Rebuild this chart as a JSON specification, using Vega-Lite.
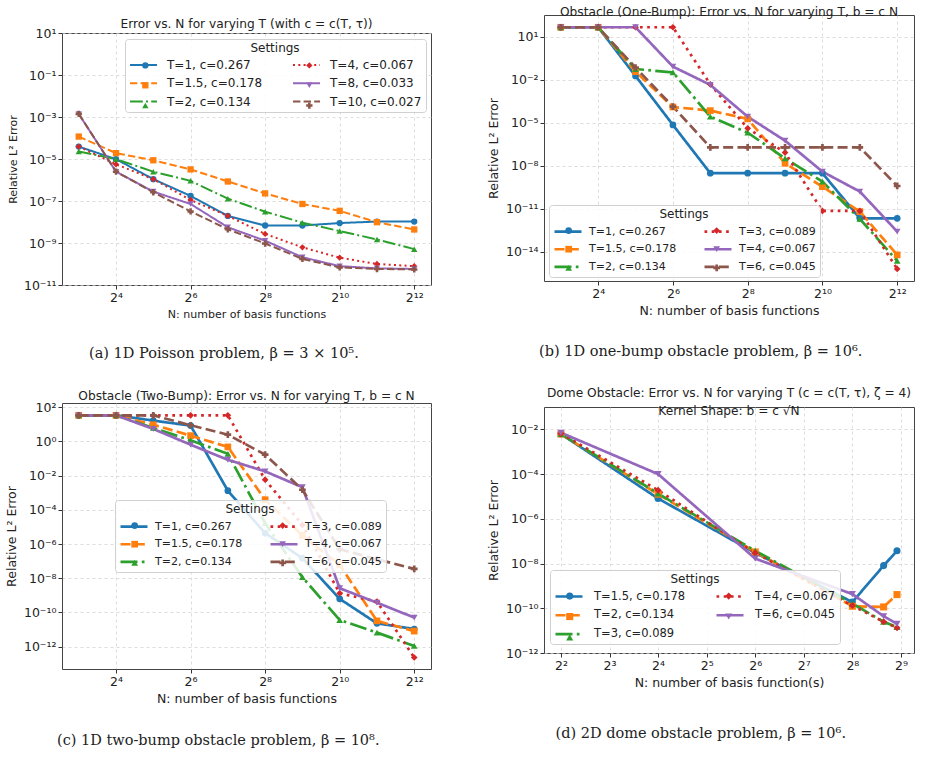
{
  "$schema": "https://vega.github.io/schema/vega-lite/v6.json",
  "background": "white",
  "padding": {"left": 4, "top": 5, "right": 3, "bottom": 5},
  "config": {
    "font": "DejaVu Sans",
    "view": {"stroke": "#444", "strokeWidth": 1},
    "axis": {"labelFont": "DejaVu Sans", "labelFontSize": 12.5, "labelColor": "#222", "titleFont": "DejaVu Sans", "titleFontWeight": "normal", "titleColor": "#222", "titleFontSize": 12.5, "domain": false, "tickColor": "#333", "tickSize": 4, "gridColor": "#cfcfcf", "gridDash": [3, 3], "gridOpacity": 0.7, "labelPadding": 2, "titlePadding": 5},
    "title": {"font": "DejaVu Sans", "fontWeight": "normal", "fontSize": 12.2, "color": "#222", "offset": 3, "subtitleFont": "DejaVu Sans", "subtitleFontSize": 12.2, "subtitleColor": "#222"},
    "legend": {"titleAnchor": "middle", "titleFontSize": 12, "titleFontWeight": "normal", "titleColor": "#222", "titleFont": "DejaVu Sans", "labelFont": "DejaVu Sans", "labelFontSize": 11.5, "labelColor": "#222", "columnPadding": 26, "padding": 4, "cornerRadius": 3, "titlePadding": 4, "labelLimit": 220, "columns": 2, "symbolOpacity": 1}
  },
  "resolve": {"scale": {"color": "independent", "fill": "independent", "shape": "independent", "strokeDash": "independent"}, "legend": {"color": "independent", "fill": "independent", "shape": "independent", "strokeDash": "independent"}},
  "datasets": {
    "a": [
      {"s": "T=1, c=0.267", "N": 8, "e": 3.9e-5}, {"s": "T=1, c=0.267", "N": 16, "e": 9.8e-6}, {"s": "T=1, c=0.267", "N": 32, "e": 1.1e-6}, {"s": "T=1, c=0.267", "N": 64, "e": 1.74e-7}, {"s": "T=1, c=0.267", "N": 128, "e": 1.95e-8}, {"s": "T=1, c=0.267", "N": 256, "e": 6.8e-9}, {"s": "T=1, c=0.267", "N": 512, "e": 6.8e-9}, {"s": "T=1, c=0.267", "N": 1024, "e": 8.9e-9}, {"s": "T=1, c=0.267", "N": 2048, "e": 1.05e-8}, {"s": "T=1, c=0.267", "N": 4096, "e": 1.05e-8},
      {"s": "T=1.5, c=0.178", "N": 8, "e": 1.17e-4}, {"s": "T=1.5, c=0.178", "N": 16, "e": 1.9e-5}, {"s": "T=1.5, c=0.178", "N": 32, "e": 8.7e-6}, {"s": "T=1.5, c=0.178", "N": 64, "e": 3.2e-6}, {"s": "T=1.5, c=0.178", "N": 128, "e": 8.5e-7}, {"s": "T=1.5, c=0.178", "N": 256, "e": 2.3e-7}, {"s": "T=1.5, c=0.178", "N": 512, "e": 7.2e-8}, {"s": "T=1.5, c=0.178", "N": 1024, "e": 3.4e-8}, {"s": "T=1.5, c=0.178", "N": 2048, "e": 9.8e-9}, {"s": "T=1.5, c=0.178", "N": 4096, "e": 4.4e-9},
      {"s": "T=2, c=0.134", "N": 8, "e": 2.3e-5}, {"s": "T=2, c=0.134", "N": 16, "e": 9.8e-6}, {"s": "T=2, c=0.134", "N": 32, "e": 2.5e-6}, {"s": "T=2, c=0.134", "N": 64, "e": 9.1e-7}, {"s": "T=2, c=0.134", "N": 128, "e": 1.29e-7}, {"s": "T=2, c=0.134", "N": 256, "e": 3.1e-8}, {"s": "T=2, c=0.134", "N": 512, "e": 9.3e-9}, {"s": "T=2, c=0.134", "N": 1024, "e": 3.7e-9}, {"s": "T=2, c=0.134", "N": 2048, "e": 1.48e-9}, {"s": "T=2, c=0.134", "N": 4096, "e": 5.1e-10},
      {"s": "T=4, c=0.067", "N": 8, "e": 3.9e-5}, {"s": "T=4, c=0.067", "N": 16, "e": 5.6e-6}, {"s": "T=4, c=0.067", "N": 32, "e": 1.1e-6}, {"s": "T=4, c=0.067", "N": 64, "e": 1.12e-7}, {"s": "T=4, c=0.067", "N": 128, "e": 1.95e-8}, {"s": "T=4, c=0.067", "N": 256, "e": 2.7e-9}, {"s": "T=4, c=0.067", "N": 512, "e": 6.2e-10}, {"s": "T=4, c=0.067", "N": 1024, "e": 2.0e-10}, {"s": "T=4, c=0.067", "N": 2048, "e": 1.0e-10}, {"s": "T=4, c=0.067", "N": 4096, "e": 7.9e-11},
      {"s": "T=8, c=0.033", "N": 8, "e": 1.41e-3}, {"s": "T=8, c=0.033", "N": 16, "e": 2.5e-6}, {"s": "T=8, c=0.033", "N": 32, "e": 2.8e-7}, {"s": "T=8, c=0.033", "N": 64, "e": 7.2e-8}, {"s": "T=8, c=0.033", "N": 128, "e": 5.6e-9}, {"s": "T=8, c=0.033", "N": 256, "e": 1.29e-9}, {"s": "T=8, c=0.033", "N": 512, "e": 2.1e-10}, {"s": "T=8, c=0.033", "N": 1024, "e": 7.9e-11}, {"s": "T=8, c=0.033", "N": 2048, "e": 6.2e-11}, {"s": "T=8, c=0.033", "N": 4096, "e": 5.8e-11},
      {"s": "T=10, c=0.027", "N": 8, "e": 1.41e-3}, {"s": "T=10, c=0.027", "N": 16, "e": 2.5e-6}, {"s": "T=10, c=0.027", "N": 32, "e": 2.6e-7}, {"s": "T=10, c=0.027", "N": 64, "e": 3.2e-8}, {"s": "T=10, c=0.027", "N": 128, "e": 4.5e-9}, {"s": "T=10, c=0.027", "N": 256, "e": 9.5e-10}, {"s": "T=10, c=0.027", "N": 512, "e": 1.74e-10}, {"s": "T=10, c=0.027", "N": 1024, "e": 6.9e-11}, {"s": "T=10, c=0.027", "N": 2048, "e": 5.8e-11}, {"s": "T=10, c=0.027", "N": 4096, "e": 5.5e-11}
    ],
    "b": [
      {"s": "T=1, c=0.267", "N": 8, "e": 45}, {"s": "T=1, c=0.267", "N": 16, "e": 45}, {"s": "T=1, c=0.267", "N": 32, "e": 0.018}, {"s": "T=1, c=0.267", "N": 64, "e": 6.9e-6}, {"s": "T=1, c=0.267", "N": 128, "e": 2.95e-9}, {"s": "T=1, c=0.267", "N": 256, "e": 2.95e-9}, {"s": "T=1, c=0.267", "N": 512, "e": 2.95e-9}, {"s": "T=1, c=0.267", "N": 1024, "e": 2.95e-9}, {"s": "T=1, c=0.267", "N": 2048, "e": 2.1e-12}, {"s": "T=1, c=0.267", "N": 4096, "e": 2.1e-12},
      {"s": "T=1.5, c=0.178", "N": 8, "e": 45}, {"s": "T=1.5, c=0.178", "N": 16, "e": 45}, {"s": "T=1.5, c=0.178", "N": 32, "e": 0.036}, {"s": "T=1.5, c=0.178", "N": 64, "e": 1.23e-4}, {"s": "T=1.5, c=0.178", "N": 128, "e": 6.9e-5}, {"s": "T=1.5, c=0.178", "N": 256, "e": 1.82e-5}, {"s": "T=1.5, c=0.178", "N": 512, "e": 1.45e-8}, {"s": "T=1.5, c=0.178", "N": 1024, "e": 3.4e-10}, {"s": "T=1.5, c=0.178", "N": 2048, "e": 6.2e-12}, {"s": "T=1.5, c=0.178", "N": 4096, "e": 5.9e-15},
      {"s": "T=2, c=0.134", "N": 8, "e": 45}, {"s": "T=2, c=0.134", "N": 16, "e": 45}, {"s": "T=2, c=0.134", "N": 32, "e": 0.055}, {"s": "T=2, c=0.134", "N": 64, "e": 0.032}, {"s": "T=2, c=0.134", "N": 128, "e": 2.6e-5}, {"s": "T=2, c=0.134", "N": 256, "e": 2.0e-6}, {"s": "T=2, c=0.134", "N": 512, "e": 3.2e-8}, {"s": "T=2, c=0.134", "N": 1024, "e": 7.6e-10}, {"s": "T=2, c=0.134", "N": 2048, "e": 1.9e-12}, {"s": "T=2, c=0.134", "N": 4096, "e": 2.3e-15},
      {"s": "T=3, c=0.089", "N": 8, "e": 45}, {"s": "T=3, c=0.089", "N": 16, "e": 45}, {"s": "T=3, c=0.089", "N": 32, "e": 45}, {"s": "T=3, c=0.089", "N": 64, "e": 45}, {"s": "T=3, c=0.089", "N": 128, "e": 4.7e-3}, {"s": "T=3, c=0.089", "N": 256, "e": 4.0e-6}, {"s": "T=3, c=0.089", "N": 512, "e": 8.1e-8}, {"s": "T=3, c=0.089", "N": 1024, "e": 6.9e-12}, {"s": "T=3, c=0.089", "N": 2048, "e": 6.9e-12}, {"s": "T=3, c=0.089", "N": 4096, "e": 6.2e-16},
      {"s": "T=4, c=0.067", "N": 8, "e": 45}, {"s": "T=4, c=0.067", "N": 16, "e": 45}, {"s": "T=4, c=0.067", "N": 32, "e": 45}, {"s": "T=4, c=0.067", "N": 64, "e": 0.081}, {"s": "T=4, c=0.067", "N": 128, "e": 4.3e-3}, {"s": "T=4, c=0.067", "N": 256, "e": 2.6e-5}, {"s": "T=4, c=0.067", "N": 512, "e": 5.5e-7}, {"s": "T=4, c=0.067", "N": 1024, "e": 3.8e-9}, {"s": "T=4, c=0.067", "N": 2048, "e": 1.55e-10}, {"s": "T=4, c=0.067", "N": 4096, "e": 2.5e-13},
      {"s": "T=6, c=0.045", "N": 8, "e": 45}, {"s": "T=6, c=0.045", "N": 16, "e": 45}, {"s": "T=6, c=0.045", "N": 32, "e": 0.069}, {"s": "T=6, c=0.045", "N": 64, "e": 1.32e-4}, {"s": "T=6, c=0.045", "N": 128, "e": 1.9e-7}, {"s": "T=6, c=0.045", "N": 256, "e": 1.9e-7}, {"s": "T=6, c=0.045", "N": 512, "e": 1.9e-7}, {"s": "T=6, c=0.045", "N": 1024, "e": 1.9e-7}, {"s": "T=6, c=0.045", "N": 2048, "e": 1.9e-7}, {"s": "T=6, c=0.045", "N": 4096, "e": 3.8e-10}
    ],
    "c": [
      {"s": "T=1, c=0.267", "N": 8, "e": 34}, {"s": "T=1, c=0.267", "N": 16, "e": 34}, {"s": "T=1, c=0.267", "N": 32, "e": 16.6}, {"s": "T=1, c=0.267", "N": 64, "e": 8.5}, {"s": "T=1, c=0.267", "N": 128, "e": 1.32e-3}, {"s": "T=1, c=0.267", "N": 256, "e": 4.4e-6}, {"s": "T=1, c=0.267", "N": 512, "e": 1.48e-7}, {"s": "T=1, c=0.267", "N": 1024, "e": 6.2e-10}, {"s": "T=1, c=0.267", "N": 2048, "e": 2.3e-11}, {"s": "T=1, c=0.267", "N": 4096, "e": 1.07e-11},
      {"s": "T=1.5, c=0.178", "N": 8, "e": 34}, {"s": "T=1.5, c=0.178", "N": 16, "e": 34}, {"s": "T=1.5, c=0.178", "N": 32, "e": 9.5}, {"s": "T=1.5, c=0.178", "N": 64, "e": 2.2}, {"s": "T=1.5, c=0.178", "N": 128, "e": 0.48}, {"s": "T=1.5, c=0.178", "N": 256, "e": 3.9e-4}, {"s": "T=1.5, c=0.178", "N": 512, "e": 3.2e-6}, {"s": "T=1.5, c=0.178", "N": 1024, "e": 6.0e-8}, {"s": "T=1.5, c=0.178", "N": 2048, "e": 3.2e-11}, {"s": "T=1.5, c=0.178", "N": 4096, "e": 8.1e-12},
      {"s": "T=2, c=0.134", "N": 8, "e": 34}, {"s": "T=2, c=0.134", "N": 16, "e": 34}, {"s": "T=2, c=0.134", "N": 32, "e": 6.2}, {"s": "T=2, c=0.134", "N": 64, "e": 1.17}, {"s": "T=2, c=0.134", "N": 128, "e": 0.19}, {"s": "T=2, c=0.134", "N": 256, "e": 1.66e-5}, {"s": "T=2, c=0.134", "N": 512, "e": 1.15e-8}, {"s": "T=2, c=0.134", "N": 1024, "e": 3.6e-11}, {"s": "T=2, c=0.134", "N": 2048, "e": 6.6e-12}, {"s": "T=2, c=0.134", "N": 4096, "e": 1.1e-12},
      {"s": "T=3, c=0.089", "N": 8, "e": 34}, {"s": "T=3, c=0.089", "N": 16, "e": 34}, {"s": "T=3, c=0.089", "N": 32, "e": 34}, {"s": "T=3, c=0.089", "N": 64, "e": 34}, {"s": "T=3, c=0.089", "N": 128, "e": 34}, {"s": "T=3, c=0.089", "N": 256, "e": 5.8e-3}, {"s": "T=3, c=0.089", "N": 512, "e": 1.32e-5}, {"s": "T=3, c=0.089", "N": 1024, "e": 1.32e-9}, {"s": "T=3, c=0.089", "N": 2048, "e": 4.3e-10}, {"s": "T=3, c=0.089", "N": 4096, "e": 2.3e-13},
      {"s": "T=4, c=0.067", "N": 8, "e": 34}, {"s": "T=4, c=0.067", "N": 16, "e": 34}, {"s": "T=4, c=0.067", "N": 32, "e": 5.4}, {"s": "T=4, c=0.067", "N": 64, "e": 0.65}, {"s": "T=4, c=0.067", "N": 128, "e": 0.085}, {"s": "T=4, c=0.067", "N": 256, "e": 0.0178}, {"s": "T=4, c=0.067", "N": 512, "e": 2.1e-3}, {"s": "T=4, c=0.067", "N": 1024, "e": 2.6e-9}, {"s": "T=4, c=0.067", "N": 2048, "e": 3.7e-10}, {"s": "T=4, c=0.067", "N": 4096, "e": 5.0e-11},
      {"s": "T=6, c=0.045", "N": 8, "e": 34}, {"s": "T=6, c=0.045", "N": 16, "e": 34}, {"s": "T=6, c=0.045", "N": 32, "e": 34}, {"s": "T=6, c=0.045", "N": 64, "e": 8.9}, {"s": "T=6, c=0.045", "N": 128, "e": 2.5}, {"s": "T=6, c=0.045", "N": 256, "e": 0.17}, {"s": "T=6, c=0.045", "N": 512, "e": 1.5e-3}, {"s": "T=6, c=0.045", "N": 1024, "e": 5.0e-7}, {"s": "T=6, c=0.045", "N": 2048, "e": 1.29e-7}, {"s": "T=6, c=0.045", "N": 4096, "e": 3.5e-8}
    ],
    "d": [
      {"s": "T=1.5, c=0.178", "N": 4, "e": 6.2e-3}, {"s": "T=1.5, c=0.178", "N": 16, "e": 8.1e-6}, {"s": "T=1.5, c=0.178", "N": 64, "e": 3.0e-8}, {"s": "T=1.5, c=0.178", "N": 256, "e": 1.9e-10}, {"s": "T=1.5, c=0.178", "N": 400, "e": 8.1e-9}, {"s": "T=1.5, c=0.178", "N": 484, "e": 3.7e-8},
      {"s": "T=2, c=0.134", "N": 4, "e": 6.2e-3}, {"s": "T=2, c=0.134", "N": 16, "e": 1.26e-5}, {"s": "T=2, c=0.134", "N": 64, "e": 3.3e-8}, {"s": "T=2, c=0.134", "N": 256, "e": 1.23e-10}, {"s": "T=2, c=0.134", "N": 400, "e": 1.15e-10}, {"s": "T=2, c=0.134", "N": 484, "e": 4.1e-10},
      {"s": "T=3, c=0.089", "N": 4, "e": 6.2e-3}, {"s": "T=3, c=0.089", "N": 16, "e": 1.35e-5}, {"s": "T=3, c=0.089", "N": 64, "e": 3.7e-8}, {"s": "T=3, c=0.089", "N": 256, "e": 1.62e-10}, {"s": "T=3, c=0.089", "N": 400, "e": 2.5e-11}, {"s": "T=3, c=0.089", "N": 484, "e": 1.45e-11},
      {"s": "T=4, c=0.067", "N": 4, "e": 6.6e-3}, {"s": "T=4, c=0.067", "N": 16, "e": 1.9e-5}, {"s": "T=4, c=0.067", "N": 64, "e": 3.0e-8}, {"s": "T=4, c=0.067", "N": 256, "e": 1.32e-10}, {"s": "T=4, c=0.067", "N": 400, "e": 2.5e-11}, {"s": "T=4, c=0.067", "N": 484, "e": 1.35e-11},
      {"s": "T=6, c=0.045", "N": 4, "e": 7.1e-3}, {"s": "T=6, c=0.045", "N": 16, "e": 1.0e-4}, {"s": "T=6, c=0.045", "N": 64, "e": 1.66e-8}, {"s": "T=6, c=0.045", "N": 256, "e": 4.3e-10}, {"s": "T=6, c=0.045", "N": 400, "e": 4.4e-11}, {"s": "T=6, c=0.045", "N": 484, "e": 2.0e-11}
    ]
  },
  "spacing": 45,
  "hconcat": [
    {
      "spacing": 28,
      "resolve": {"scale": {"color": "independent", "fill": "independent", "shape": "independent", "strokeDash": "independent"}, "legend": {"color": "independent", "fill": "independent", "shape": "independent", "strokeDash": "independent"}},
      "vconcat": [
        {
          "spacing": 0,
          "resolve": {"scale": {"color": "independent", "fill": "independent", "shape": "independent", "strokeDash": "independent"}, "legend": {"color": "independent", "fill": "independent", "shape": "independent", "strokeDash": "independent"}},
          "vconcat": [
            {"width": 10, "height": 1, "data": {"values": []}, "mark": "point", "view": {"stroke": "transparent"}},
            {
              "title": {"text": "(a) 1D Poisson problem, β = 3 × 10⁵.", "orient": "bottom", "anchor": "middle", "font": "DejaVu Serif", "fontSize": 14.5, "offset": 27},
              "vconcat": [
                {
                  "width": 369, "height": 252,
                  "title": {"text": "Error vs. N for varying T (with c = c(T, τ))", "offset": -3},
                  "data": {"name": "a"},
                  "encoding": {
                    "x": {"field": "N", "type": "quantitative", "scale": {"type": "log", "base": 2, "domain": [5.86, 5594], "nice": false}, "axis": {"values": [16, 64, 256, 1024, 4096], "labelExpr": "['2⁰','2¹','2²','2³','2⁴','2⁵','2⁶','2⁷','2⁸','2⁹','2¹⁰','2¹¹','2¹²'][round(log(datum.value)/LN2)]", "title": "N: number of basis functions", "titleFontSize": 11}},
                    "y": {"field": "e", "type": "quantitative", "scale": {"type": "log", "domain": [1e-11, 10], "nice": false}, "axis": {"values": [1e-11, 1e-9, 1e-7, 1e-5, 1e-3, 0.1, 10], "labelExpr": "['10⁻¹⁶','10⁻¹⁵','10⁻¹⁴','10⁻¹³','10⁻¹²','10⁻¹¹','10⁻¹⁰','10⁻⁹','10⁻⁸','10⁻⁷','10⁻⁶','10⁻⁵','10⁻⁴','10⁻³','10⁻²','10⁻¹','10⁰','10¹','10²'][round(log(datum.value)/LN10)+16]", "title": "Relative L² Error", "titleFontSize": 11}}
                  },
                  "layer": [
                    {"mark": {"type": "line", "strokeWidth": 2},
                      "encoding": {
                        "color": {"field": "s", "type": "nominal", "scale": {"domain": ["T=1, c=0.267", "T=1.5, c=0.178", "T=2, c=0.134", "T=4, c=0.067", "T=8, c=0.033", "T=10, c=0.027"], "range": ["#1f77b4", "#ff7f0e", "#2ca02c", "#d62728", "#9467bd", "#8c564b"]},
                          "legend": {"title": "Settings", "orient": "none", "legendX": 63, "legendY": 6, "labelFontSize": 12, "symbolType": "M-1,0H4.4", "symbolSize": 100, "symbolStrokeWidth": 2, "labelOffset": 26, "rowPadding": 6.3, "fillColor": "rgba(255,255,255,0.85)", "strokeColor": "#d0d0d0"}},
                        "strokeDash": {"field": "s", "type": "nominal", "scale": {"domain": ["T=1, c=0.267", "T=1.5, c=0.178", "T=2, c=0.134", "T=4, c=0.067", "T=8, c=0.033", "T=10, c=0.027"], "range": [[1, 0], [7.4, 3.2], [12.8, 3.2, 2, 3.2], [2, 3.3], [1, 0], [7.4, 3.2]]},
                          "legend": {"title": "Settings", "orient": "none", "legendX": 63, "legendY": 6, "labelFontSize": 12, "symbolType": "M-1,0H4.4", "symbolSize": 100, "symbolStrokeWidth": 2, "labelOffset": 26, "rowPadding": 6.3, "fillColor": "rgba(255,255,255,0.85)", "strokeColor": "#d0d0d0"}}
                      }},
                    {"transform": [{"calculate": "datum.s + ' '", "as": "s2"}],
                      "mark": {"type": "point", "filled": true, "size": 40, "opacity": 1},
                      "encoding": {
                        "fill": {"field": "s2", "type": "nominal", "scale": {"domain": ["T=1, c=0.267 ", "T=1.5, c=0.178 ", "T=2, c=0.134 ", "T=4, c=0.067 ", "T=8, c=0.033 ", "T=10, c=0.027 "], "range": ["#1f77b4", "#ff7f0e", "#2ca02c", "#d62728", "#9467bd", "#8c564b"]},
                          "legend": {"title": "Settings", "titleOpacity": 0, "labelOpacity": 0, "orient": "none", "legendX": 73.34, "legendY": 6, "labelFontSize": 12, "symbolSize": 40, "labelOffset": 29.68, "rowPadding": 6.3, "fillColor": "rgba(0,0,0,0)", "strokeColor": "rgba(0,0,0,0)"}},
                        "shape": {"field": "s2", "type": "nominal", "scale": {"domain": ["T=1, c=0.267 ", "T=1.5, c=0.178 ", "T=2, c=0.134 ", "T=4, c=0.067 ", "T=8, c=0.033 ", "T=10, c=0.027 "], "range": ["circle", "square", "triangle-up", "diamond", "triangle-down", "cross"]},
                          "legend": {"title": "Settings", "titleOpacity": 0, "labelOpacity": 0, "orient": "none", "legendX": 73.34, "legendY": 6, "labelFontSize": 12, "symbolSize": 40, "labelOffset": 29.68, "rowPadding": 6.3, "fillColor": "rgba(0,0,0,0)", "strokeColor": "rgba(0,0,0,0)"}}
                      }}
                  ]
                }
              ]
            }
          ]
        },
        {
          "title": {"text": "(c) 1D two-bump obstacle problem, β = 10⁸.", "orient": "bottom", "anchor": "middle", "font": "DejaVu Serif", "fontSize": 14.5, "offset": 28},
          "vconcat": [
            {
              "width": 369, "height": 266,
              "title": {"text": "Obstacle (Two-Bump): Error vs. N for varying T, b = c N", "offset": -1},
              "data": {"name": "c"},
              "encoding": {
                "x": {"field": "N", "type": "quantitative", "scale": {"type": "log", "base": 2, "domain": [5.86, 5594], "nice": false}, "axis": {"values": [16, 64, 256, 1024, 4096], "labelExpr": "['2⁰','2¹','2²','2³','2⁴','2⁵','2⁶','2⁷','2⁸','2⁹','2¹⁰','2¹¹','2¹²'][round(log(datum.value)/LN2)]", "title": "N: number of basis functions"}},
                "y": {"field": "e", "type": "quantitative", "scale": {"type": "log", "domain": [4.9e-14, 178], "nice": false}, "axis": {"values": [1e-12, 1e-10, 1e-8, 1e-6, 1e-4, 1e-2, 1, 100], "labelExpr": "['10⁻¹⁶','10⁻¹⁵','10⁻¹⁴','10⁻¹³','10⁻¹²','10⁻¹¹','10⁻¹⁰','10⁻⁹','10⁻⁸','10⁻⁷','10⁻⁶','10⁻⁵','10⁻⁴','10⁻³','10⁻²','10⁻¹','10⁰','10¹','10²'][round(log(datum.value)/LN10)+16]", "title": "Relative L² Error"}}
              },
              "layer": [
                {"mark": {"type": "line", "strokeWidth": 2.7},
                  "encoding": {
                    "color": {"field": "s", "type": "nominal", "scale": {"domain": ["T=1, c=0.267", "T=1.5, c=0.178", "T=2, c=0.134", "T=3, c=0.089", "T=4, c=0.067", "T=6, c=0.045"], "range": ["#1f77b4", "#ff7f0e", "#2ca02c", "#d62728", "#9467bd", "#8c564b"]},
                      "legend": {"title": "Settings", "orient": "none", "legendX": 53, "legendY": 97, "labelFontSize": 11, "symbolType": "M-1,0H4.4", "symbolSize": 100, "symbolStrokeWidth": 2.6, "labelOffset": 23, "columnPadding": 22, "rowPadding": 5.7, "fillColor": "rgba(255,255,255,0.85)", "strokeColor": "#d0d0d0"}},
                    "strokeDash": {"field": "s", "type": "nominal", "scale": {"domain": ["T=1, c=0.267", "T=1.5, c=0.178", "T=2, c=0.134", "T=3, c=0.089", "T=4, c=0.067", "T=6, c=0.045"], "range": [[1, 0], [10, 4.3], [17, 4.3, 2.7, 4.3], [2.7, 4.5], [1, 0], [10, 4.3]]},
                      "legend": {"title": "Settings", "orient": "none", "legendX": 53, "legendY": 97, "labelFontSize": 11, "symbolType": "M-1,0H4.4", "symbolSize": 100, "symbolStrokeWidth": 2.6, "labelOffset": 23, "columnPadding": 22, "rowPadding": 5.7, "fillColor": "rgba(255,255,255,0.85)", "strokeColor": "#d0d0d0"}}
                  }},
                {"transform": [{"calculate": "datum.s + ' '", "as": "s2"}],
                  "mark": {"type": "point", "filled": true, "size": 45, "opacity": 1},
                  "encoding": {
                    "fill": {"field": "s2", "type": "nominal", "scale": {"domain": ["T=1, c=0.267 ", "T=1.5, c=0.178 ", "T=2, c=0.134 ", "T=3, c=0.089 ", "T=4, c=0.067 ", "T=6, c=0.045 "], "range": ["#1f77b4", "#ff7f0e", "#2ca02c", "#d62728", "#9467bd", "#8c564b"]},
                      "legend": {"title": "Settings", "titleOpacity": 0, "labelOpacity": 0, "orient": "none", "legendX": 63.15, "legendY": 97, "labelFontSize": 11, "symbolSize": 45, "labelOffset": 26.29, "columnPadding": 22, "rowPadding": 5.7, "fillColor": "rgba(0,0,0,0)", "strokeColor": "rgba(0,0,0,0)"}},
                    "shape": {"field": "s2", "type": "nominal", "scale": {"domain": ["T=1, c=0.267 ", "T=1.5, c=0.178 ", "T=2, c=0.134 ", "T=3, c=0.089 ", "T=4, c=0.067 ", "T=6, c=0.045 "], "range": ["circle", "square", "triangle-up", "diamond", "triangle-down", "cross"]},
                      "legend": {"title": "Settings", "titleOpacity": 0, "labelOpacity": 0, "orient": "none", "legendX": 63.15, "legendY": 97, "labelFontSize": 11, "symbolSize": 45, "labelOffset": 26.29, "columnPadding": 22, "rowPadding": 5.7, "fillColor": "rgba(0,0,0,0)", "strokeColor": "rgba(0,0,0,0)"}}
                  }}
              ]
            }
          ]
        }
      ]
    },
    {
      "spacing": 28,
      "resolve": {"scale": {"color": "independent", "fill": "independent", "shape": "independent", "strokeDash": "independent"}, "legend": {"color": "independent", "fill": "independent", "shape": "independent", "strokeDash": "independent"}},
      "vconcat": [
        {
          "title": {"text": "(b) 1D one-bump obstacle problem, β = 10⁶.", "orient": "bottom", "anchor": "middle", "font": "DejaVu Serif", "fontSize": 14.5, "offset": 27},
          "vconcat": [
            {
              "width": 370, "height": 266,
              "title": {"text": "Obstacle (One-Bump): Error vs. N for varying T, b = c N", "offset": -3},
              "data": {"name": "b"},
              "encoding": {
                "x": {"field": "N", "type": "quantitative", "scale": {"type": "log", "base": 2, "domain": [5.86, 5594], "nice": false}, "axis": {"values": [16, 64, 256, 1024, 4096], "labelExpr": "['2⁰','2¹','2²','2³','2⁴','2⁵','2⁶','2⁷','2⁸','2⁹','2¹⁰','2¹¹','2¹²'][round(log(datum.value)/LN2)]", "title": "N: number of basis functions"}},
                "y": {"field": "e", "type": "quantitative", "scale": {"type": "log", "domain": [8.9e-17, 323], "nice": false}, "axis": {"values": [1e-14, 1e-11, 1e-8, 1e-5, 1e-2, 10], "labelExpr": "['10⁻¹⁶','10⁻¹⁵','10⁻¹⁴','10⁻¹³','10⁻¹²','10⁻¹¹','10⁻¹⁰','10⁻⁹','10⁻⁸','10⁻⁷','10⁻⁶','10⁻⁵','10⁻⁴','10⁻³','10⁻²','10⁻¹','10⁰','10¹','10²'][round(log(datum.value)/LN10)+16]", "title": "Relative L² Error"}}
              },
              "layer": [
                {"mark": {"type": "line", "strokeWidth": 2.7},
                  "encoding": {
                    "color": {"field": "s", "type": "nominal", "scale": {"domain": ["T=1, c=0.267", "T=1.5, c=0.178", "T=2, c=0.134", "T=3, c=0.089", "T=4, c=0.067", "T=6, c=0.045"], "range": ["#1f77b4", "#ff7f0e", "#2ca02c", "#d62728", "#9467bd", "#8c564b"]},
                      "legend": {"title": "Settings", "orient": "none", "legendX": 5, "legendY": 190, "labelFontSize": 11, "symbolType": "M-1,0H4.4", "symbolSize": 100, "symbolStrokeWidth": 2.6, "labelOffset": 23, "columnPadding": 22, "rowPadding": 5.7, "fillColor": "rgba(255,255,255,0.85)", "strokeColor": "#d0d0d0"}},
                    "strokeDash": {"field": "s", "type": "nominal", "scale": {"domain": ["T=1, c=0.267", "T=1.5, c=0.178", "T=2, c=0.134", "T=3, c=0.089", "T=4, c=0.067", "T=6, c=0.045"], "range": [[1, 0], [10, 4.3], [17, 4.3, 2.7, 4.3], [2.7, 4.5], [1, 0], [10, 4.3]]},
                      "legend": {"title": "Settings", "orient": "none", "legendX": 5, "legendY": 190, "labelFontSize": 11, "symbolType": "M-1,0H4.4", "symbolSize": 100, "symbolStrokeWidth": 2.6, "labelOffset": 23, "columnPadding": 22, "rowPadding": 5.7, "fillColor": "rgba(255,255,255,0.85)", "strokeColor": "#d0d0d0"}}
                  }},
                {"transform": [{"calculate": "datum.s + ' '", "as": "s2"}],
                  "mark": {"type": "point", "filled": true, "size": 45, "opacity": 1},
                  "encoding": {
                    "fill": {"field": "s2", "type": "nominal", "scale": {"domain": ["T=1, c=0.267 ", "T=1.5, c=0.178 ", "T=2, c=0.134 ", "T=3, c=0.089 ", "T=4, c=0.067 ", "T=6, c=0.045 "], "range": ["#1f77b4", "#ff7f0e", "#2ca02c", "#d62728", "#9467bd", "#8c564b"]},
                      "legend": {"title": "Settings", "titleOpacity": 0, "labelOpacity": 0, "orient": "none", "legendX": 15.15, "legendY": 190, "labelFontSize": 11, "symbolSize": 45, "labelOffset": 26.29, "columnPadding": 22, "rowPadding": 5.7, "fillColor": "rgba(0,0,0,0)", "strokeColor": "rgba(0,0,0,0)"}},
                    "shape": {"field": "s2", "type": "nominal", "scale": {"domain": ["T=1, c=0.267 ", "T=1.5, c=0.178 ", "T=2, c=0.134 ", "T=3, c=0.089 ", "T=4, c=0.067 ", "T=6, c=0.045 "], "range": ["circle", "square", "triangle-up", "diamond", "triangle-down", "cross"]},
                      "legend": {"title": "Settings", "titleOpacity": 0, "labelOpacity": 0, "orient": "none", "legendX": 15.15, "legendY": 190, "labelFontSize": 11, "symbolSize": 45, "labelOffset": 26.29, "columnPadding": 22, "rowPadding": 5.7, "fillColor": "rgba(0,0,0,0)", "strokeColor": "rgba(0,0,0,0)"}}
                  }}
              ]
            }
          ]
        },
        {
          "title": {"text": "(d) 2D dome obstacle problem, β = 10⁶.", "orient": "bottom", "anchor": "middle", "font": "DejaVu Serif", "fontSize": 14.5, "offset": 37},
          "vconcat": [
            {
              "width": 370, "height": 246,
              "title": {"text": "Dome Obstacle: Error vs. N for varying T (c = c(T, τ), ζ = 4)", "subtitle": "Kernel Shape: b = c √N", "subtitlePadding": 6, "offset": -10},
              "data": {"name": "d"},
              "encoding": {
                "x": {"field": "N", "type": "quantitative", "scale": {"type": "log", "base": 2, "domain": [3.14, 617], "nice": false}, "axis": {"values": [4, 8, 16, 32, 64, 128, 256, 512], "labelExpr": "['2⁰','2¹','2²','2³','2⁴','2⁵','2⁶','2⁷','2⁸','2⁹','2¹⁰','2¹¹','2¹²'][round(log(datum.value)/LN2)]", "title": "N: number of basis function(s)"}},
                "y": {"field": "e", "type": "quantitative", "scale": {"type": "log", "domain": [1e-12, 0.1], "nice": false}, "axis": {"values": [1e-12, 1e-10, 1e-8, 1e-6, 1e-4, 1e-2], "labelExpr": "['10⁻¹⁶','10⁻¹⁵','10⁻¹⁴','10⁻¹³','10⁻¹²','10⁻¹¹','10⁻¹⁰','10⁻⁹','10⁻⁸','10⁻⁷','10⁻⁶','10⁻⁵','10⁻⁴','10⁻³','10⁻²','10⁻¹','10⁰','10¹','10²'][round(log(datum.value)/LN10)+16]", "title": "Relative L² Error"}}
              },
              "layer": [
                {"mark": {"type": "line", "strokeWidth": 2.7},
                  "encoding": {
                    "color": {"field": "s", "type": "nominal", "scale": {"domain": ["T=1.5, c=0.178", "T=2, c=0.134", "T=3, c=0.089", "T=4, c=0.067", "T=6, c=0.045"], "range": ["#1f77b4", "#ff7f0e", "#2ca02c", "#d62728", "#9467bd"]},
                      "legend": {"title": "Settings", "orient": "none", "legendX": 6, "legendY": 163, "labelFontSize": 11.5, "symbolType": "M-1,0H4.4", "symbolSize": 100, "symbolStrokeWidth": 2.6, "labelOffset": 27, "columnPadding": 25, "rowPadding": 6.8, "fillColor": "rgba(255,255,255,0.85)", "strokeColor": "#d0d0d0"}},
                    "strokeDash": {"field": "s", "type": "nominal", "scale": {"domain": ["T=1.5, c=0.178", "T=2, c=0.134", "T=3, c=0.089", "T=4, c=0.067", "T=6, c=0.045"], "range": [[1, 0], [10, 4.3], [17, 4.3, 2.7, 4.3], [2.7, 4.5], [1, 0]]},
                      "legend": {"title": "Settings", "orient": "none", "legendX": 6, "legendY": 163, "labelFontSize": 11.5, "symbolType": "M-1,0H4.4", "symbolSize": 100, "symbolStrokeWidth": 2.6, "labelOffset": 27, "columnPadding": 25, "rowPadding": 6.8, "fillColor": "rgba(255,255,255,0.85)", "strokeColor": "#d0d0d0"}}
                  }},
                {"transform": [{"calculate": "datum.s + ' '", "as": "s2"}],
                  "mark": {"type": "point", "filled": true, "size": 50, "opacity": 1},
                  "encoding": {
                    "fill": {"field": "s2", "type": "nominal", "scale": {"domain": ["T=1.5, c=0.178 ", "T=2, c=0.134 ", "T=3, c=0.089 ", "T=4, c=0.067 ", "T=6, c=0.045 "], "range": ["#1f77b4", "#ff7f0e", "#2ca02c", "#d62728", "#9467bd"]},
                      "legend": {"title": "Settings", "titleOpacity": 0, "labelOpacity": 0, "orient": "none", "legendX": 15.96, "legendY": 163, "labelFontSize": 11.5, "symbolSize": 50, "labelOffset": 29.93, "columnPadding": 25, "rowPadding": 6.8, "fillColor": "rgba(0,0,0,0)", "strokeColor": "rgba(0,0,0,0)"}},
                    "shape": {"field": "s2", "type": "nominal", "scale": {"domain": ["T=1.5, c=0.178 ", "T=2, c=0.134 ", "T=3, c=0.089 ", "T=4, c=0.067 ", "T=6, c=0.045 "], "range": ["circle", "square", "triangle-up", "diamond", "triangle-down"]},
                      "legend": {"title": "Settings", "titleOpacity": 0, "labelOpacity": 0, "orient": "none", "legendX": 15.96, "legendY": 163, "labelFontSize": 11.5, "symbolSize": 50, "labelOffset": 29.93, "columnPadding": 25, "rowPadding": 6.8, "fillColor": "rgba(0,0,0,0)", "strokeColor": "rgba(0,0,0,0)"}}
                  }}
              ]
            }
          ]
        }
      ]
    }
  ]
}
